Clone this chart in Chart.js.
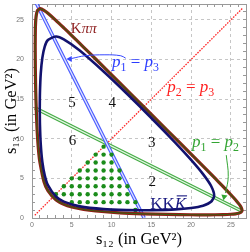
<!DOCTYPE html>
<html><head><meta charset="utf-8">
<script src="https://cdn.jsdelivr.net/npm/chart.js@4/dist/chart.umd.min.js"></script>
<style>html,body{margin:0;padding:0;background:#fff;}canvas{display:block;}</style>
</head><body>
<canvas id="c" width="250" height="252"></canvas>
<script>
// ---- data (GeV^2) ----
const tickLabels = [0, 5, 10, 15, 20, 25];

const kppS12 = [0.402,0.42,0.45,0.5,0.6,0.7,0.85,1.0,1.5,2,3,4,5,6.5,8,11,14,17,20,21.65,23,24,25,25.6,26,26.25,26.41,26.25,26,25.6,25,24,23,20,17,14,11,8,6.5,5,4,3,2,1.5,0.99,0.85,0.7,0.6,0.5,0.45,0.42,0.402];
const kppS13 = [21.65,18.86,16.95,14.8,12.0,10.1,8.2,7.0,4.6,3.46,2.30,1.73,1.39,1.07,0.88,0.65,0.525,0.45,0.41,0.40,0.41,0.426,0.47,0.53,0.61,0.715,0.99,1.42,1.78,2.27,2.93,3.99,5.02,8.06,11.07,14.08,17.07,20.06,21.54,23.02,23.99,24.94,25.83,26.2,26.41,26.3,26.2,25.9,25.3,24.61,23.73,21.65];

const kkkS12 = [0.976,1.0,1.1,1.3,1.6,2,3,4,6,9,12,13.81,15,18,20,21.5,22.5,22.9,22.5,21.5,20,18,15,12,9,6,4,3,2,1.6,1.3,1.1,1.0,0.976];
const kkkS13 = [13.81,11.74,9.31,7.07,5.39,4.14,2.71,2.07,1.47,1.12,0.995,0.976,0.981,1.086,1.27,1.56,2.04,2.85,4.07,5.54,7.33,9.515,12.62,15.61,18.48,21.13,22.54,22.89,22.45,21.63,20.2,18.21,15.86,13.81];

const p13S12 = [0.3, 14.1];   // p1 = p3
const p13S13 = [27.6, 0];
const p12S12 = [0.35, 26.4];  // p1 = p2
const p12S13 = [13.9, 0.85];
const p23S12 = [0.35, 26.45]; // p2 = p3
const p23S13 = [0.35, 26.45];

const dotS12 = [13, 5,6,7,8,9,10,11,12,13, 3,4,5,6,7,8,9,10,11,12, 4,5,6,7,8,9,10,11,12, 5,6,7,8,9,10,11, 6,7,8,9,10,11, 7,8,9,10, 8,9,10, 9];
const dotS13 = [1, 2,2,2,2,2,2,2,2,2, 3,3,3,3,3,3,3,3,3,3, 4,4,4,4,4,4,4,4,4, 5,5,5,5,5,5,5, 6,6,6,6,6,6, 7,7,7,7, 8,8,8, 9];

const blueArrowS12 = [4.96, 6.69, 9.17, 11.16, 11.78];
const blueArrowS13 = [20.12, 20.47, 20.59, 20.47, 20.16];
const blueHeadS12 = [4.77];
const blueHeadS13 = [20.06];
const greenArrowS12 = [24.42, 24.67, 24.33];
const greenArrowS13 = [7.93, 5.23, 3.15];
const greenHeadS12 = [24.15];
const greenHeadS13 = [2.68];

// ---- annotations (text) ----
const annotations = [
  {x: 6.51, y: 23.39, size: 15, color: '#8b1a1a', parts: [{t: 'K'}, {t: 'ππ', it: true}]},
  {x: 13.02, y: 19.04, size: 17, color: '#2b3cff', parts: [{t: 'p', it: true}, {t: '1', sub: true}, {t: ' = '}, {t: 'p', it: true}, {t: '3', sub: true}]},
  {x: 19.96, y: 15.86, size: 17, color: '#ff2020', parts: [{t: 'p', it: true}, {t: '2', sub: true}, {t: ' = '}, {t: 'p', it: true}, {t: '3', sub: true}]},
  {x: 23.06, y: 8.9, size: 17, color: '#33a533', parts: [{t: 'p', it: true}, {t: '1', sub: true}, {t: ' = '}, {t: 'p', it: true}, {t: '2', sub: true}]},
  {x: 5.02, y: 14.02, size: 15, color: '#111', parts: [{t: '5'}]},
  {x: 10.10, y: 14.02, size: 15, color: '#111', parts: [{t: '4'}]},
  {x: 5.08, y: 9.21, size: 15, color: '#111', parts: [{t: '6'}]},
  {x: 15.06, y: 8.96, size: 15, color: '#111', parts: [{t: '3'}]},
  {x: 15.12, y: 3.98, size: 15, color: '#111', parts: [{t: '2'}]},
  {x: 17.11, y: 1.12, size: 17, color: '#1a1a80', parts: [{t: 'KK'}, {t: 'K', it: true, bar: true}]}
];

const zip = (xs, ys) => xs.map((v, i) => ({x: v, y: ys[i]}));
function lineSet(xs, ys, color, width, order, extra) {
  return Object.assign({
    data: zip(xs, ys), showLine: true, borderColor: color, backgroundColor: color,
    borderWidth: width, pointRadius: 0, pointHoverRadius: 0, tension: 0, fill: false, order: order
  }, extra || {});
}

const datasets = [
  lineSet(p23S12, p23S13, '#ff2a2a', 1.3, 90, {borderDash: [1.6, 1.2]}),
  lineSet(p12S12, p12S13, '#45ad45', 3.6, 80),
  lineSet(p12S12, p12S13, '#e4f4e4', 1.3, 79),
  lineSet(p13S12, p13S13, '#4b5cff', 3.6, 70),
  lineSet(p13S12, p13S13, '#dfe3ff', 1.3, 69),
  {data: zip(dotS12, dotS13), showLine: false, pointRadius: 2.2, pointHoverRadius: 2.2,
   backgroundColor: '#1b8c1b', borderWidth: 0, order: 60},
  lineSet(kppS12, kppS13, '#931c16', 3.2, 50, {tension: 0.25}),
  lineSet(kppS12, kppS13, '#3e5a12', 1.2, 49, {tension: 0.25}),
  lineSet(kkkS12, kkkS13, '#12126e', 2.6, 40, {tension: 0.25}),
  lineSet(blueArrowS12, blueArrowS13, '#3546ff', 1, 30, {tension: 0.4}),
  {data: zip(blueHeadS12, blueHeadS13), showLine: false, pointStyle: 'triangle', rotation: 270,
   pointRadius: 3.6, backgroundColor: '#3546ff', borderColor: '#3546ff', borderWidth: 0, order: 29},
  lineSet(greenArrowS12, greenArrowS13, '#33a533', 1, 28, {tension: 0.4}),
  {data: zip(greenHeadS12, greenHeadS13), showLine: false, pointStyle: 'triangle', rotation: 190,
   pointRadius: 3.6, backgroundColor: '#33a533', borderColor: '#33a533', borderWidth: 0, order: 27}
];

const textPlugin = {
  id: 'texts',
  afterDatasetsDraw(chart) {
    const {ctx} = chart;
    const xs = chart.scales.x, ys = chart.scales.y;
    annotations.forEach(a => {
      let total = 0;
      const segs = a.parts.map(p => {
        const size = p.sub ? a.size * 0.7 : a.size;
        const font = (p.it ? 'italic ' : '') + size + 'px "Liberation Serif", "DejaVu Serif", serif';
        ctx.font = font;
        const w = ctx.measureText(p.t).width;
        total += w;
        return {p, font, w};
      });
      let cx = xs.getPixelForValue(a.x) - total / 2;
      const by = ys.getPixelForValue(a.y);
      ctx.save();
      ctx.fillStyle = a.color;
      ctx.strokeStyle = a.color;
      ctx.textBaseline = 'alphabetic';
      ctx.textAlign = 'left';
      segs.forEach(s => {
        ctx.font = s.font;
        const yy = by + (s.p.sub ? a.size * 0.22 : 0);
        ctx.fillText(s.p.t, cx, yy);
        if (s.p.bar) {
          ctx.lineWidth = 1.1;
          ctx.beginPath();
          ctx.moveTo(cx + 2, by - a.size * 0.78);
          ctx.lineTo(cx + s.w + 1, by - a.size * 0.78);
          ctx.stroke();
        }
        cx += s.w;
      });
      ctx.restore();
    });
  }
};

function gridColor(c) {
  const v = c.tick ? c.tick.value : 0;
  return (v > 0 && Math.abs(v % 5) < 1e-6) ? '#c6c6c6' : 'rgba(0,0,0,0)';
}
const tickFont = {family: 'Liberation Sans', size: 7};
const titleFont = {family: 'Liberation Serif', size: 16.5};

new Chart(document.getElementById('c'), {
  type: 'scatter',
  data: {datasets},
  options: {
    responsive: false, animation: false, devicePixelRatio: 1, events: [],
    layout: {padding: 0},
    plugins: {legend: {display: false}, tooltip: {enabled: false}},
    scales: {
      x: {
        type: 'linear', position: 'bottom', min: 0, max: 26.9,
        afterFit(s) { s.height = 34; s.paddingLeft = 0; s.paddingRight = 0; },
        ticks: {stepSize: 1, autoSkip: false, maxRotation: 0, includeBounds: false, padding: 6,
          font: tickFont, color: '#777', callback: v => tickLabels.includes(v) ? String(v) : ''},
        grid: {color: gridColor, tickColor: '#999', tickLength: -3, lineWidth: 1},
        border: {color: '#999', width: 1, dash: [3, 3]},
        title: {display: true, text: 's₁₂ (in GeV²)', font: titleFont, color: '#000', padding: {top: 0, bottom: 2}}
      },
      y: {
        type: 'linear', position: 'left', min: 0, max: 27,
        afterFit(s) { s.width = 32; s.paddingTop = 0; s.paddingBottom = 0; },
        ticks: {stepSize: 1, autoSkip: false, includeBounds: false, padding: 11,
          font: tickFont, color: '#777', callback: v => tickLabels.includes(v) ? String(v) : ''},
        grid: {color: gridColor, tickColor: '#999', tickLength: -3, lineWidth: 1},
        border: {color: '#999', width: 1, dash: [3, 3]},
        title: {display: true, text: 's₁₃ (in GeV²)', font: titleFont, color: '#000', padding: {top: 2, bottom: 0}}
      },
      x2: {
        type: 'linear', position: 'top', min: 0, max: 26.9,
        afterFit(s) { s.height = 1; s.paddingLeft = 0; s.paddingRight = 0; },
        ticks: {display: false, stepSize: 1, autoSkip: false, includeBounds: false},
        grid: {drawOnChartArea: false, tickColor: '#999', tickLength: -3},
        border: {color: '#999', width: 1}
      },
      y2: {
        type: 'linear', position: 'right', min: 0, max: 27,
        afterFit(s) { s.width = 1; s.paddingTop = 0; s.paddingBottom = 0; },
        ticks: {display: false, stepSize: 1, autoSkip: false, includeBounds: false},
        grid: {drawOnChartArea: false, tickColor: '#999', tickLength: -3},
        border: {color: '#999', width: 1}
      }
    }
  },
  plugins: [textPlugin]
});
</script>
</body></html>
